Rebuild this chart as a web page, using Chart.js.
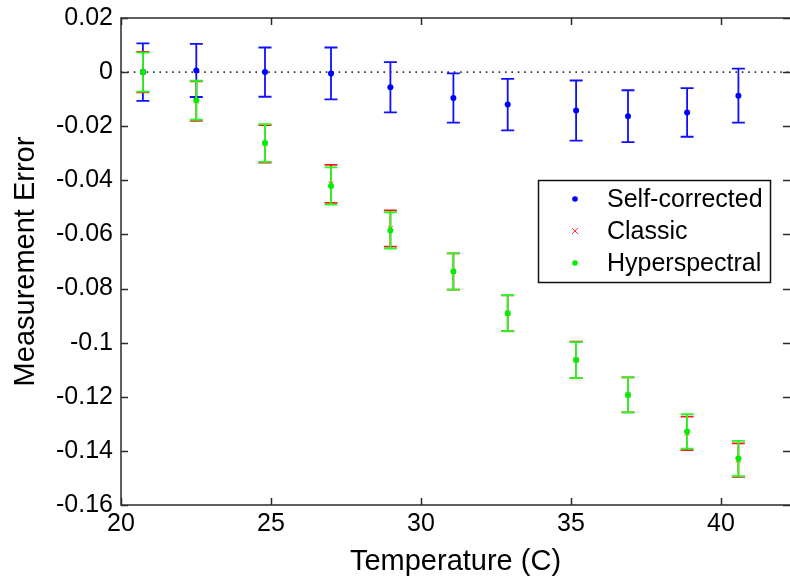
<!DOCTYPE html>
<html>
<head>
<meta charset="utf-8">
<script src="https://cdn.jsdelivr.net/npm/chart.js@4/dist/chart.umd.min.js"></script>
<style>
  html, body { margin: 0; padding: 0; background: #fff; overflow: hidden; }
</style>
</head>
<body>
<canvas id="chart" width="790" height="576"></canvas>
<script>
// values
const temps = [20.73, 22.51, 24.8, 27.0, 28.98, 31.08, 32.89, 35.17, 36.9, 38.87, 40.58];

const selfCorrected = [0, 0.0006, 0, -0.0005, -0.0056, -0.0096, -0.0120, -0.0142, -0.0163, -0.0149, -0.0087];
const selfErr = [0.0106, 0.0098, 0.0091, 0.0096, 0.0093, 0.0091, 0.0095, 0.0111, 0.0096, 0.0090, 0.0100];

const classic = [0, -0.0107, -0.0265, -0.0413, -0.0578, -0.0737, -0.0891, -0.1063, -0.1193, -0.1335, -0.1434];
const classicErr = [0.0075, 0.0073, 0.0069, 0.0070, 0.0067, 0.0067, 0.0066, 0.0067, 0.0065, 0.0062, 0.0062];

const hyper = [0, -0.0104, -0.0262, -0.0421, -0.0585, -0.0737, -0.0891, -0.1064, -0.1193, -0.1328, -0.1428];
const hyperErr = [0.0072, 0.0072, 0.0070, 0.0069, 0.0067, 0.0067, 0.0067, 0.0066, 0.0065, 0.0064, 0.0065];

const xTicks = [20, 25, 30, 35, 40];
const yTicks = [0.02, 0, -0.02, -0.04, -0.06, -0.08, -0.1, -0.12, -0.14, -0.16];
const xRange = [20, 42.3];

const FONT = "'Liberation Sans', Arial, sans-serif";

function pts(ys) {
  return temps.map((t, i) => ({ x: t, y: ys[i] }));
}

// error bars + matlab style box and inward ticks
const errorBars = {
  id: 'errorBars',
  beforeDatasetDraw(chart, args) {
    const ds = chart.data.datasets[args.index];
    if (!ds.errors) return;
    const { ctx, scales: { x, y } } = chart;
    ctx.save();
    ctx.strokeStyle = ds.barColor;
    ctx.lineWidth = 1.8;
    ds.data.forEach((p, i) => {
      const e = ds.errors[i];
      const px = x.getPixelForValue(p.x);
      const top = y.getPixelForValue(p.y + e);
      const bot = y.getPixelForValue(p.y - e);
      ctx.beginPath();
      ctx.moveTo(px, top); ctx.lineTo(px, bot);
      ctx.moveTo(px - 6.5, top); ctx.lineTo(px + 6.5, top);
      ctx.moveTo(px - 6.5, bot); ctx.lineTo(px + 6.5, bot);
      ctx.stroke();
    });
    ctx.restore();
  },
  afterDraw(chart) {
    const { ctx, chartArea: a, scales: { x, y } } = chart;
    ctx.save();
    ctx.strokeStyle = '#2a2a2a';
    ctx.lineWidth = 1.5;
    ctx.beginPath();
    ctx.moveTo(a.right, a.top); ctx.lineTo(a.left, a.top);
    ctx.lineTo(a.left, a.bottom); ctx.lineTo(a.right, a.bottom);
    const tl = 7;
    xTicks.forEach(v => {
      const px = Math.round(x.getPixelForValue(v)) + 0.5;
      ctx.moveTo(px, a.bottom); ctx.lineTo(px, a.bottom - tl);
      ctx.moveTo(px, a.top); ctx.lineTo(px, a.top + tl);
    });
    yTicks.forEach(v => {
      const py = Math.round(y.getPixelForValue(v)) + 0.5;
      ctx.moveTo(a.left, py); ctx.lineTo(a.left + tl, py);
      ctx.moveTo(a.right, py); ctx.lineTo(a.right - tl, py);
    });
    ctx.stroke();

    // legend
    const lx = 538.5, ly = 180.5, lw = 232, lh = 102;
    ctx.fillStyle = '#fff';
    ctx.fillRect(lx, ly, lw, lh);
    ctx.strokeStyle = '#111';
    ctx.lineWidth = 1.5;
    ctx.strokeRect(lx, ly, lw, lh);
    const items = chart.data.datasets.filter(d => d.errors);
    ctx.font = '25px ' + FONT;
    ctx.textBaseline = 'middle';
    ctx.textAlign = 'left';
    items.forEach((d, i) => {
      const cy = 199 + i * 32;
      const cx = 575;
      if (d.pointStyle === 'crossRot') {
        ctx.strokeStyle = d.borderColor;
        ctx.lineWidth = 1;
        ctx.beginPath();
        ctx.moveTo(cx - 3, cy - 3); ctx.lineTo(cx + 3, cy + 3);
        ctx.moveTo(cx - 3, cy + 3); ctx.lineTo(cx + 3, cy - 3);
        ctx.stroke();
      } else {
        ctx.fillStyle = d.backgroundColor;
        ctx.beginPath();
        ctx.arc(cx, cy, 2.8, 0, Math.PI * 2);
        ctx.fill();
      }
      ctx.fillStyle = '#000';
      ctx.fillText(d.label, 607, cy + 1);
    });
    ctx.restore();
  }
};

new Chart(document.getElementById('chart'), {
  type: 'scatter',
  data: {
    datasets: [{
      label: 'zero',
      data: [{ x: xRange[0], y: 0 }, { x: xRange[1], y: 0 }],
      showLine: true,
      borderColor: '#333',
      borderWidth: 1.6,
      borderDash: [1.6, 4.8],
      pointRadius: 0,
      order: 4
    }, {
      label: 'Self-corrected',
      data: pts(selfCorrected),
      errors: selfErr,
      barColor: '#1010ff',
      backgroundColor: '#0000ff',
      borderColor: '#0000ff',
      pointStyle: 'circle',
      pointRadius: 3,
      borderWidth: 0,
      order: 3
    }, {
      label: 'Classic',
      data: pts(classic),
      errors: classicErr,
      barColor: '#ff1a1a',
      backgroundColor: '#ff3030',
      borderColor: '#ff3030',
      pointStyle: 'crossRot',
      pointRadius: 3.5,
      borderWidth: 1,
      order: 2
    }, {
      label: 'Hyperspectral',
      data: pts(hyper),
      errors: hyperErr,
      barColor: '#22ff22',
      backgroundColor: '#00ee00',
      borderColor: '#00ee00',
      pointStyle: 'circle',
      pointRadius: 3,
      borderWidth: 0,
      order: 1
    }]
  },
  options: {
    responsive: false,
    animation: false,
    devicePixelRatio: 1,
    layout: { autoPadding: false, padding: { top: 18, right: 0, left: 0, bottom: 0 } },
    plugins: { legend: { display: false }, tooltip: { enabled: false } },
    scales: {
      x: {
        type: 'linear',
        min: xRange[0],
        max: xRange[1],
        afterFit: s => { s.height = 71; s.paddingLeft = 0; s.paddingRight = 0; },
        afterBuildTicks: s => { s.ticks = xTicks.map(v => ({ value: v })); },
        grid: { display: false, drawTicks: false },
        border: { display: false },
        ticks: { color: '#000', padding: 4, font: { family: FONT, size: 25 } },
        title: {
          display: true,
          text: 'Temperature (C)',
          color: '#000',
          padding: { top: 0, bottom: 0 },
          font: { family: FONT, size: 29, lineHeight: 1 }
        }
      },
      y: {
        min: yTicks[yTicks.length - 1],
        max: yTicks[0],
        afterFit: s => { s.width = 121; s.paddingTop = 0; s.paddingBottom = 0; },
        afterBuildTicks: s => { s.ticks = yTicks.map(v => ({ value: v })); },
        grid: { display: false, drawTicks: false },
        border: { display: false },
        ticks: {
          color: '#000',
          padding: 8,
          font: { family: FONT, size: 25 },
          callback: v => String(Math.round(v * 100) / 100)
        },
        title: {
          display: true,
          text: 'Measurement Error',
          color: '#000',
          padding: { top: 11, bottom: 0 },
          font: { family: FONT, size: 29, lineHeight: 1 }
        }
      }
    }
  },
  plugins: [errorBars]
});
</script>
</body>
</html>
